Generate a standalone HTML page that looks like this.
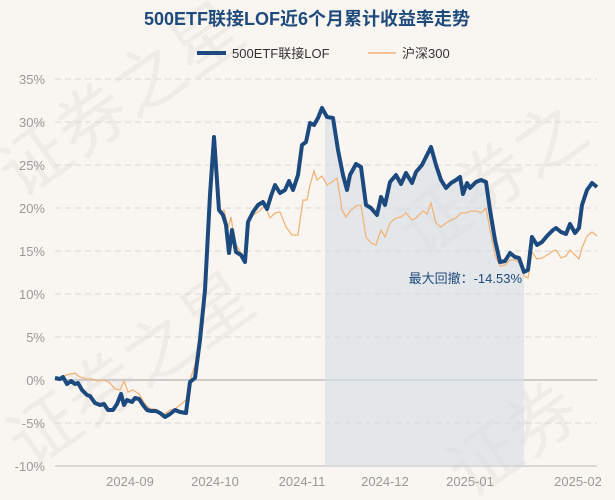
<!DOCTYPE html>
<html><head><meta charset="utf-8"><style>
body{margin:0;background:#f9f6f2;}
svg{display:block;font-family:"Liberation Sans","Noto Sans CJK SC",sans-serif;}
</style></head><body>
<svg width="615" height="500" viewBox="0 0 615 500">
<rect width="615" height="500" fill="#f9f6f2"/>
<g fill="#000" opacity="0.04" font-size="70">
<text transform="translate(20,200) rotate(-35)">证券之星</text>
<text transform="translate(30,470) rotate(-35)">证券之星</text>
<text transform="translate(420,260) rotate(-35)">证券之</text>
<text transform="translate(470,500) rotate(-35)">证券</text>
</g>
<text x="307" y="25" text-anchor="middle" font-size="18" font-weight="bold" fill="#1f4a7c">500ETF联接LOF近6个月累计收益率走势</text>
<line x1="197" y1="53" x2="226" y2="53" stroke="#1c4a7e" stroke-width="4"/>
<text x="232" y="58" font-size="13" fill="#333">500ETF联接LOF</text>
<line x1="368" y1="53" x2="396" y2="53" stroke="#f0b47a" stroke-width="1.5"/>
<text x="402" y="58" font-size="13" fill="#333">沪深300</text>
<g stroke="#d8d8d8" stroke-dasharray="6,4" stroke-width="1">
<line x1="55" x2="597" y1="79" y2="79"/><line x1="55" x2="597" y1="122" y2="122"/>
<line x1="55" x2="597" y1="165" y2="165"/><line x1="55" x2="597" y1="208" y2="208"/>
<line x1="55" x2="597" y1="251" y2="251"/><line x1="55" x2="597" y1="294" y2="294"/>
<line x1="55" x2="597" y1="337" y2="337"/><line x1="55" x2="597" y1="423" y2="423"/>
</g>
<line x1="55" x2="597" y1="380" y2="380" stroke="#ccc" stroke-width="2"/>
<line x1="55" x2="597" y1="466" y2="466" stroke="#bbb" stroke-width="1"/>
<g font-size="13" fill="#999" text-anchor="end">
<text x="45" y="84">35%</text><text x="45" y="127">30%</text><text x="45" y="170">25%</text>
<text x="45" y="213">20%</text><text x="45" y="256">15%</text><text x="45" y="299">10%</text>
<text x="45" y="342">5%</text><text x="45" y="385">0%</text><text x="45" y="428">-5%</text>
<text x="45" y="471">-10%</text>
</g>
<g font-size="13" fill="#999" text-anchor="middle">
<text x="130" y="486">2024-09</text><text x="215" y="486">2024-10</text><text x="302" y="486">2024-11</text>
<text x="385" y="486">2024-12</text><text x="470" y="486">2025-01</text><text x="578" y="486">2025-02</text>
</g>
<polygon fill="#d5dde5" opacity="0.6" points="325,466 325,112 327,117 333,118 338,150 343,175 347,190 350,175 356,164 361,167 366,205 371,208 377,215 381,197 385,205 390,182 396,175 401,184 406,173 412,183 416,172 422,165 431,147 436,165 441,180 446,188 451,183 456,180 460,177 463,194 467,183 470,188 476,182 481,180 486,182 490,210 495,240 500,262 505,261 510,253 515,257 519,258 524,272 524,466"/>
<text x="522" y="283" text-anchor="end" font-size="13" fill="#1f4a7c">最大回撤：-14.53%</text>
<polyline fill="none" stroke="#f0b47a" stroke-width="1.3" points="55,378 60,380 66,375 71,374 75,373 80,377 86,379 92,379 97,381 104,380 110,383 115,389 120,390 124,381 128,392 133,390 139,394 145,404 150,409 155,409 160,412 165,414 170,410 175,409 180,405 186,400 190,380 195,365 200,330 205,285 210,195 214,148 217,200 220,213 224,210 228,228 231,217 235,243 241,253 245,258 248,222 253,215 258,212 265,206 270,218 275,213 280,212 286,227 292,235 298,235 303,200 307,200 310,185 314,171 317,180 322,176 327,185 332,182 337,178 342,210 346,217 351,210 356,206 361,205 366,237 371,243 376,245 381,230 385,237 390,223 396,218 401,217 406,213 412,220 416,218 423,211 427,214 431,203 436,223 441,227 446,223 451,220 456,218 461,213 466,213 471,211 477,211 481,213 486,208 490,230 495,255 500,266 505,265 510,260 515,260 519,262 524,276 528,278 532,252 537,259 542,258 547,255 553,251 556,250 561,258 566,256 570,250 575,255 579,259 582,248 587,236 592,232 597,236"/>
<polyline fill="none" stroke="#1c4a7e" stroke-width="4" stroke-linejoin="round" points="55,378 60,379 63,377 67,384 71,381 75,384 78,383 82,390 87,395 90,396 95,403 100,405 104,404 108,410 113,410 117,404 121,394 124,405 127,400 132,402 135,398 139,399 143,405 147,410 151,411 156,411 160,413 165,417 170,414 175,410 180,412 186,413 190,382 195,378 200,340 205,290 210,195 214,137 219,210 223,215 226,225 229,253 232,230 236,252 241,255 245,262 248,222 253,212 258,205 263,202 267,209 271,196 275,185 280,193 285,190 289,181 293,190 298,175 302,145 306,142 310,123 314,125 318,118 322,108 327,117 333,118 338,150 343,175 347,190 350,175 356,164 361,167 366,205 371,208 377,215 381,197 385,205 390,182 396,175 401,184 406,173 412,183 416,172 422,165 431,147 436,165 441,180 446,188 451,183 456,180 460,177 463,194 467,183 470,188 476,182 481,180 486,182 490,210 495,240 500,262 505,261 510,253 515,257 519,258 524,272 528,270 532,237 537,245 542,242 547,236 553,230 556,228 561,232 566,234 570,224 575,233 579,228 582,205 587,190 592,183 597,187"/>
</svg>
</body></html>
